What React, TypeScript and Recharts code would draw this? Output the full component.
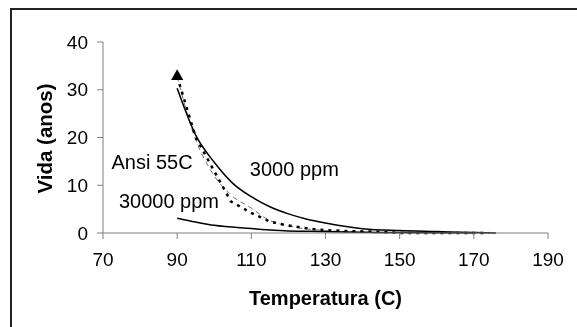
import React from 'react';
import { ComposedChart, Line, Scatter, XAxis, YAxis, ReferenceDot } from 'recharts';

// Temperature ticks and life ticks
const xTicks = [70, 90, 110, 130, 150, 170, 190];
const yTicks = [0, 10, 20, 30, 40];

// 3000 ppm (solid)
const s3000 = [
  { x: 90, y: 30.3 }, { x: 95, y: 20.5 }, { x: 100, y: 14.8 }, { x: 105, y: 10.4 },
  { x: 110, y: 7.6 }, { x: 115, y: 5.5 }, { x: 120, y: 4.0 }, { x: 125, y: 2.9 },
  { x: 130, y: 2.1 }, { x: 140, y: 0.9 }, { x: 150, y: 0.5 }, { x: 160, y: 0.3 },
  { x: 170, y: 0.1 }, { x: 176, y: 0 },
];

// 30000 ppm (solid)
const s30000 = [
  { x: 90, y: 3.1 }, { x: 95, y: 2.3 }, { x: 100, y: 1.6 }, { x: 110, y: 0.95 },
  { x: 116, y: 0.6 }, { x: 128, y: 0.3 }, { x: 140, y: 0.15 }, { x: 150, y: 0.1 },
  { x: 160, y: 0.05 }, { x: 170, y: 0 },
];

// Ansi 55C (thin gray dashed)
const sAnsi = [
  { x: 90, y: 32.8 }, { x: 95, y: 19.5 }, { x: 99, y: 13.2 }, { x: 104, y: 8.3 },
  { x: 110, y: 5.2 }, { x: 115, y: 2.6 }, { x: 120, y: 1.5 }, { x: 130, y: 0.5 },
  { x: 140, y: 0.2 }, { x: 150, y: 0.05 }, { x: 165, y: 0 },
];

// Thick black dotted series
const sDotted = [
  { x: 90, y: 32.8 }, { x: 95, y: 20 }, { x: 104.5, y: 6.6 }, { x: 110, y: 4.2 },
  { x: 115, y: 2.4 }, { x: 119, y: 1.7 }, { x: 123, y: 1.2 }, { x: 127, y: 0.8 },
  { x: 130, y: 0.6 }, { x: 136, y: 0.4 }, { x: 143, y: 0.3 }, { x: 150, y: 0 },
  { x: 174, y: 0 },
];

// Triangle marker at start of dotted series
const sMarker = [{ x: 90, y: 32.8 }];

// Annotations (data coordinates of text start / baseline)
const annotations = [
  { text: 'Ansi 55C', x: 72.3, y: 13.5 },
  { text: '30000 ppm', x: 74.3, y: 5.2 },
  { text: '3000 ppm', x: 109.6, y: 11.9 },
];

const FONT = '"Liberation Sans", Arial, sans-serif';
const AXIS_COLOR = '#808080';

const XTitle = (props: any) => {
  const vb = props.viewBox;
  return (
    <text x={vb.x + vb.width / 2} y={vb.y + 72} textAnchor="middle"
      fontFamily={FONT} fontSize={20} fontWeight="bold" fill="#000">
      Temperatura (C)
    </text>
  );
};

const YTitle = () => {
  const cx = 52;
  const cy = 138.5;
  return (
    <text x={cx} y={cy} textAnchor="middle" transform={`rotate(-90, ${cx}, ${cy})`}
      fontFamily={FONT} fontSize={20.5} fontWeight="bold" fill="#000">
      Vida (anos)
    </text>
  );
};

export default function App() {
  return (
    <>
      <div style={{ position: 'fixed', left: 10, top: 8, width: 567, height: 319,
        borderLeft: '2px solid #222', borderTop: '2px solid #222', boxSizing: 'border-box' }} />
      <div style={{ position: 'fixed', left: 0, top: 0, width: 577, height: 327 }}>
        <ComposedChart width={577} height={327}
          margin={{ top: 42, right: 29, left: 0, bottom: 0 }}>
          <XAxis type="number" dataKey="x" domain={[70, 190]} ticks={xTicks}
            allowDataOverflow height={94}
            stroke={AXIS_COLOR} tickSize={6} tickMargin={14}
            tick={{ fill: '#000', fontSize: 19, fontFamily: FONT }}
            label={{ content: XTitle }} />
          <YAxis type="number" dataKey="y" domain={[0, 40]} ticks={yTicks}
            width={103} stroke={AXIS_COLOR} tickSize={6} tickMargin={9}
            tick={{ fill: '#000', fontSize: 19, fontFamily: FONT }}
            label={{ content: YTitle }} />
          <Line data={sAnsi} dataKey="y" type="monotone" stroke="#6e6e6e" strokeWidth={1}
            strokeDasharray="5 4" dot={false} isAnimationActive={false} />
          <Line data={s3000} dataKey="y" type="monotone" stroke="#000" strokeWidth={1.5}
            dot={false} isAnimationActive={false} />
          <Line data={s30000} dataKey="y" type="monotone" stroke="#000" strokeWidth={1.5}
            dot={false} isAnimationActive={false} />
          <Line data={sDotted} dataKey="y" type="linear" stroke="#000" strokeWidth={2.5}
            strokeDasharray="3 5" dot={false} isAnimationActive={false} />
          <Scatter data={sMarker} dataKey="y" shape="triangle" fill="#000"
            isAnimationActive={false} />
          {annotations.map((a) => (
            <ReferenceDot key={a.text} x={a.x} y={a.y} r={0} stroke="none" fill="none"
              label={{
                content: (p: any) => (
                  <text x={p.viewBox.x} y={p.viewBox.y} textAnchor="start"
                    fontFamily={FONT} fontSize={20} fill="#000">{a.text}</text>
                ),
              }} />
          ))}
        </ComposedChart>
      </div>
    </>
  );
}
